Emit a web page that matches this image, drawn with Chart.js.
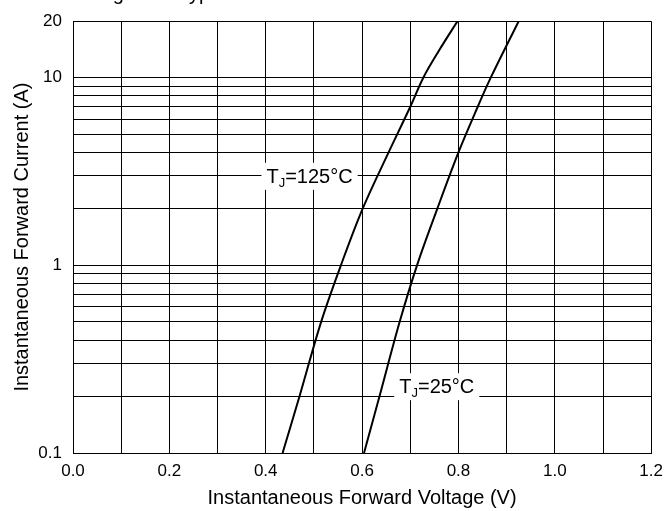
<!DOCTYPE html>
<html>
<head>
<meta charset="utf-8">
<script src="https://cdn.jsdelivr.net/npm/chart.js@4.4.1/dist/chart.umd.min.js"></script>
<style>
  html, body { margin: 0; padding: 0; background: #fff; }
  #wrap { width: 671px; height: 511px; }
</style>
</head>
<body>
<div id="wrap"><canvas id="ivChart" width="671" height="511"></canvas></div>
<script>
// ---------------------
// Data (V, A)
// ---------------------
const v125 = [0.435, 0.470, 0.515, 0.556, 0.601, 0.655, 0.700, 0.727, 0.760, 0.798];
const i125 = [0.1,   0.2,   0.5,   1.0,   2.0,   4.0,   7.0,   10,    14,    20];

const v25 = [0.604, 0.636, 0.678, 0.714, 0.756, 0.800, 0.840, 0.867, 0.925];
const i25 = [0.1,   0.2,   0.5,   1.0,   2.0,   4.0,   7.0,   10,    20];

// grid / tick values
const yGrid = [0.1, 0.2, 0.3, 0.4, 0.5, 0.6, 0.7, 0.8, 0.9,
               1, 2, 3, 4, 5, 6, 7, 8, 9, 10, 20];
const yLabels = [0.1, 1, 10, 20];
const xLabels = [0, 0.2, 0.4, 0.6, 0.8, 1.0, 1.2];

// curve labels
const curveLabels = [
    { v: 0.491, i: 3.0,   pre: 'T', sub: 'J', post: '=125°C' },
    { v: 0.755, i: 0.227, pre: 'T', sub: 'J', post: '=25°C' }
];

const FONT = 'Liberation Sans, Arial, Helvetica, sans-serif';

const toPts = (xs, ys) => xs.map((x, k) => ({ x, y: ys[k] }));
const near = (a, b) => Math.abs(a - b) < 1e-6 * Math.max(1, b);

// labels with white boxes + the clipped caption at the very top
const labelPlugin = {
    id: 'curveLabels',
    afterDatasetsDraw(chart) {
        const { ctx, scales: { x, y } } = chart;
        ctx.save();
        curveLabels.forEach(l => {
            const cx = x.getPixelForValue(l.v);
            const cy = y.getPixelForValue(l.i);
            ctx.font = '20px ' + FONT;
            const w1 = ctx.measureText(l.pre).width;
            const w3 = ctx.measureText(l.post).width;
            ctx.font = '13px ' + FONT;
            const w2 = ctx.measureText(l.sub).width;
            const w = w1 + w2 + w3;
            const x0 = cx - w / 2;
            ctx.fillStyle = '#fff';
            ctx.fillRect(x0 - 5, cy - 13, w + 10, 27);
            ctx.fillStyle = '#000';
            ctx.textBaseline = 'alphabetic';
            ctx.textAlign = 'left';
            ctx.font = '20px ' + FONT;
            ctx.fillText(l.pre, x0, cy + 7);
            ctx.font = '13px ' + FONT;
            ctx.fillText(l.sub, x0 + w1, cy + 11);
            ctx.font = '20px ' + FONT;
            ctx.fillText(l.post, x0 + w1 + w2, cy + 7);
        });
        // caption is cut off by the frame; only descenders show
        ctx.font = '20px ' + FONT;
        ctx.fillStyle = '#000';
        ctx.textBaseline = 'alphabetic';
        ctx.fillText('Fig. 2', 96, 0);
        ctx.fillText('Typical Forward Characteristics', 178, 0);
        ctx.restore();
    }
};

new Chart(document.getElementById('ivChart'), {
    type: 'line',
    data: {
        datasets: [
            { label: '125', data: toPts(v125, i125), borderColor: '#000', borderWidth: 2,
              pointRadius: 0, tension: 0.35, fill: false },
            { label: '25', data: toPts(v25, i25), borderColor: '#000', borderWidth: 2,
              pointRadius: 0, tension: 0.35, fill: false }
        ]
    },
    options: {
        responsive: false,
        animation: false,
        layout: { padding: { top: 20, right: 16, left: 0, bottom: 0 } },
        plugins: { legend: { display: false }, tooltip: { enabled: false } },
        scales: {
            x: {
                type: 'linear', min: 0, max: 1.2,
                afterBuildTicks: s => {
                    s.ticks = [];
                    for (let k = 0; k <= 12; k++) s.ticks.push({ value: +(k * 0.1).toFixed(1) });
                },
                afterFit: s => { s.height = 58; },
                grid: { color: '#000', lineWidth: 1, drawTicks: false },
                border: { color: '#000', width: 1 },
                ticks: {
                    padding: 8, color: '#000', font: { family: FONT, size: 17 },
                    maxRotation: 0, autoSkip: false,
                    callback: v => xLabels.some(t => near(v, t)) ? v.toFixed(1) : ''
                },
                title: { display: true, text: 'Instantaneous Forward Voltage (V)', color: '#000',
                         font: { family: FONT, size: 20 }, padding: { top: 0, bottom: 1 } }
            },
            y: {
                type: 'logarithmic', min: 0.1, max: 20,
                afterBuildTicks: s => { s.ticks = yGrid.map(v => ({ value: v })); },
                afterFit: s => { s.width = 73; },
                grid: { color: '#000', lineWidth: 1, drawTicks: false },
                border: { color: '#000', width: 1 },
                ticks: {
                    padding: 11, color: '#000', font: { family: FONT, size: 17 }, autoSkip: false,
                    callback: v => yLabels.some(t => near(v, t)) ? String(v) : ''
                },
                title: { display: true, text: 'Instantaneous Forward Current (A)', color: '#000',
                         font: { family: FONT, size: 20 }, padding: { top: 10, bottom: 0 } }
            }
        }
    },
    plugins: [labelPlugin]
});
</script>
</body>
</html>
